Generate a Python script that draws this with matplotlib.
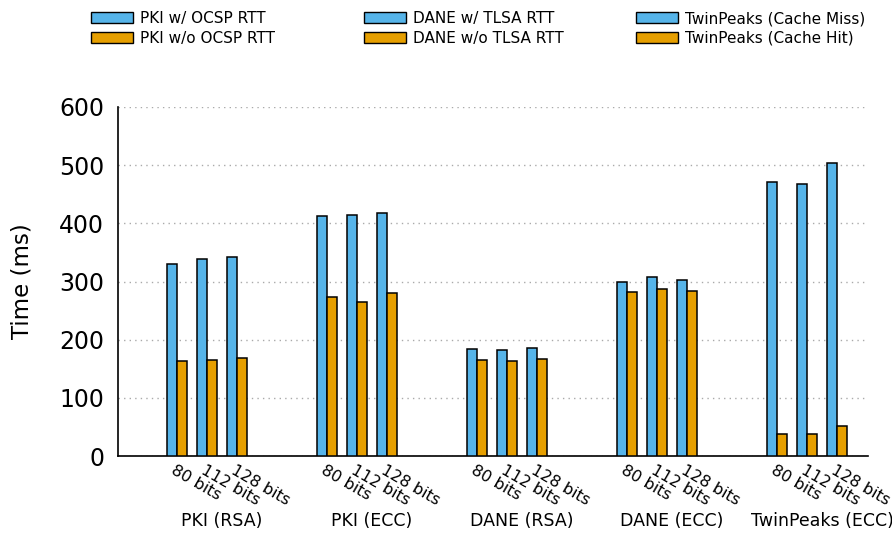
import matplotlib
matplotlib.use("Agg")
import matplotlib.pyplot as plt
from matplotlib.patches import Patch

groups = ["PKI (RSA)", "PKI (ECC)", "DANE (RSA)", "DANE (ECC)", "TwinPeaks (ECC)"]
key_sizes = ["80 bits", "112 bits", "128 bits"]

# per group: three key sizes, first series (with extra RTT / cache miss)
with_rtt = [
    [330, 338, 342],
    [412, 414, 418],
    [184, 182, 186],
    [300, 307, 302],
    [471, 468, 504],
]
# second series (without extra RTT / cache hit)
without_rtt = [
    [163, 165, 168],
    [273, 265, 281],
    [165, 163, 167],
    [282, 287, 283],
    [37, 38, 51],
]

legend_cols = [
    ("PKI w/ OCSP RTT", "PKI w/o OCSP RTT"),
    ("DANE w/ TLSA RTT", "DANE w/o TLSA RTT"),
    ("TwinPeaks (Cache Miss)", "TwinPeaks (Cache Hit)"),
]

blue = "#56B4E9"
orange = "#E69F00"

fig = plt.figure(figsize=(8.92, 5.37), dpi=100)
ax = fig.add_axes([118 / 892, 81 / 537, 750 / 892, 349 / 537])

w = 1 / 3
slot = 5  # three pairs plus two empty slots per group
for g in range(len(groups)):
    for k in range(len(key_sizes)):
        x = g * slot + k
        ax.bar(x - w, with_rtt[g][k], width=w, align="edge",
               color=blue, edgecolor="black", linewidth=1.1, zorder=3)
        ax.bar(x, without_rtt[g][k], width=w, align="edge",
               color=orange, edgecolor="black", linewidth=1.1, zorder=3)
        ax.text(x - 0.05, -12, key_sizes[k], rotation=-30, rotation_mode="anchor",
                ha="left", va="top", fontsize=11.5)
    ax.text(g * slot + 1.5, -112, groups[g], ha="center", va="center", fontsize=12.5)

ax.set_xlim(-1.97, 23.03)
ax.set_ylim(0, 600)
ax.set_yticks(range(0, 601, 100))
ax.set_xticks([])
ax.tick_params(axis="y", length=0, pad=10, labelsize=17)
ax.yaxis.grid(True, linestyle=(0, (1, 3)), color="#aaaaaa", linewidth=1)
ax.set_axisbelow(True)
for s in ["top", "right"]:
    ax.spines[s].set_visible(False)
ax.spines["left"].set_linewidth(1.2)
ax.spines["bottom"].set_linewidth(1.2)
ax.set_ylabel("Time (ms)", fontsize=16.5, labelpad=18)

# one legend per column, placed at fixed pixel offsets
col_x = [88, 361, 633]
for cx, labels in zip(col_x, legend_cols):
    handles = [Patch(facecolor=blue, edgecolor="black"),
               Patch(facecolor=orange, edgecolor="black")]
    fig.legend(handles, labels, loc="upper left",
               bbox_to_anchor=(cx / 892, 1 - 8 / 537), frameon=False, fontsize=11,
               handlelength=2.75, handleheight=0.75, handletextpad=0.45,
               labelspacing=0.3, borderaxespad=0.0, borderpad=0.2)

fig.savefig("out.png", dpi=100)
